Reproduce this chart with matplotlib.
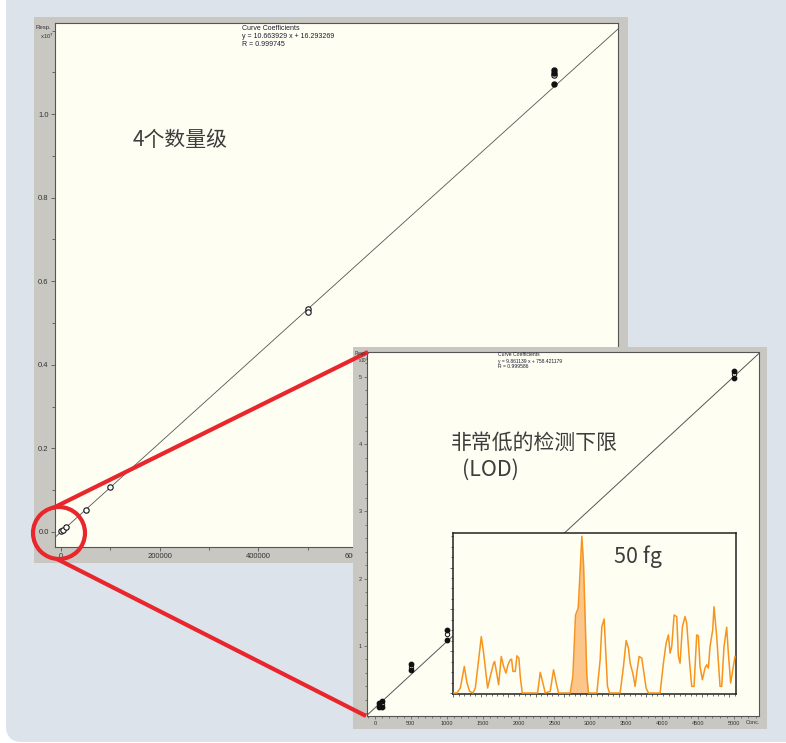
import numpy as np
import matplotlib
matplotlib.use("Agg")
import matplotlib.pyplot as plt
from matplotlib.patches import FancyBboxPatch, Rectangle, Circle
from matplotlib.ticker import MultipleLocator, FixedLocator

# ---- calibration over four orders of magnitude (responses in counts) ----
wide_open_conc = [1000, 5000, 10000, 50000, 100000, 500000, 500000, 1000000]
wide_open_resp = [11000, 55000, 108000, 520000, 1070000, 5340000, 5260000, 10940000]
wide_filled_conc = [1000000, 1000000, 1000000]
wide_filled_resp = [11060000, 10990000, 10720000]
wide_slope, wide_intercept, wide_r = 10.663929, 16.293269, 0.999745
wide_xticks = [0, 200000, 400000, 600000, 800000, 1000000]
wide_yticks = [0.0, 0.2, 0.4, 0.6, 0.8, 1.0]

# ---- low-level calibration (LOD region) ----
low_filled_conc = [50, 50, 100, 100, 500, 500, 1000, 1000, 5000, 5000]
low_filled_resp = [1440, 850, 1830, 940, 7240, 6440, 12340, 10860, 50860, 49800]
low_open_conc = [50, 100, 500, 1000, 5000]
low_open_resp = [1150, 1350, 6800, 11700, 50400]
low_slope, low_intercept, low_r = 9.861139, 758.421179, 0.999586
low_xticks = [0, 500, 1000, 1500, 2000, 2500, 3000, 3500, 4000, 4500, 5000]
low_yticks = [1, 2, 3, 4, 5]

# ---- chromatogram of the 50 fg injection ----
trace_x = [0, 12, 22, 34, 42, 50, 60, 67, 77, 85, 92, 100, 104, 112, 122, 125, 132, 137,
           145, 152, 159, 165, 172, 176, 180, 187, 192, 198, 202, 208, 254, 262, 270, 277,
           292, 302, 310, 317, 352, 360, 368, 376, 382, 387, 392, 397, 402, 407, 432, 442,
           447, 454, 459, 464, 470, 502, 512, 520, 527, 532, 540, 547, 552, 559, 567, 572,
           580, 587, 622, 632, 640, 647, 652, 657, 664, 672, 677, 682, 689, 697, 702, 710,
           717, 724, 732, 737, 742, 749, 757, 762, 767, 772, 780, 784, 792, 802, 807, 814,
           822, 827, 834, 842, 847]
trace_y = [0, 0, 15, 80, 30, 5, 0, 15, 100, 170, 120, 50, 15, 50, 90, 95, 55, 25,
           110, 80, 60, 85, 100, 102, 65, 65, 112, 105, 50, 0, 0, 62, 30, 0,
           5, 70, 30, 0, 0, 50, 235, 255, 370, 472, 390, 220, 50, 0, 0, 100,
           200, 223, 120, 20, 0, 0, 80, 158, 135, 90, 60, 20, 60, 110, 105, 70,
           15, 0, 0, 90, 150, 175, 120, 140, 235, 230, 110, 90, 200, 230, 210, 100,
           20, 20, 175, 172, 80, 40, 75, 85, 75, 140, 190, 260, 170, 20, 20, 140,
           198, 120, 30, 80, 110]
peak_start, peak_end = 352, 407

W, H = 786, 743
PANEL = "#dce3ea"
FRAME = "#c9c7c1"
PLOT_BG = "#fefef3"
RED = "#e8262c"
TXT = "#333333"
CJK = ["Noto Sans CJK SC", "DejaVu Sans"]
LAT = ["Liberation Sans", "DejaVu Sans"]

plt.rcParams["font.family"] = LAT

fig = plt.figure(figsize=(W / 100, H / 100), dpi=100)
fig.patch.set_facecolor("white")


def box(x0, y0, x1, y1):
    return [x0 / W, 1 - y1 / H, (x1 - x0) / W, (y1 - y0) / H]


def bare(ax, color):
    ax.set_facecolor(color)
    ax.set_xticks([])
    ax.set_yticks([])
    for s in ax.spines.values():
        s.set_visible(False)


# page panel and first window frame
bg = fig.add_axes([0, 0, 1, 1], zorder=0)
bg.set_xlim(0, W)
bg.set_ylim(H, 0)
bg.axis("off")
bg.add_patch(FancyBboxPatch((6, -40), 860, 782, boxstyle="round,pad=0,rounding_size=16",
                            fc=PANEL, ec="none"))
bg.add_patch(Rectangle((34, 17), 594, 546, fc=FRAME, ec="none"))

# ---- wide-range calibration plot ----
ax1 = fig.add_axes(box(55, 23, 618, 547), zorder=1)
ax1.set_facecolor(PLOT_BG)
ax1.set_xlim(-12158, 1128673)
ax1.set_ylim(-0.036, 1.218)
lx = np.array(ax1.get_xlim())
ax1.plot(lx, (wide_slope * lx + wide_intercept) / 1e7, color="#555555", lw=0.6, zorder=2)
ax1.scatter(wide_open_conc, np.array(wide_open_resp) / 1e7, s=15, facecolors="white",
            edgecolors="#111111", linewidths=0.8, zorder=3)
ax1.scatter(wide_filled_conc, np.array(wide_filled_resp) / 1e7, s=13, color="#111111", zorder=4)
ax1.xaxis.set_major_locator(FixedLocator(wide_xticks))
ax1.set_xticklabels([str(v) for v in wide_xticks])
ax1.xaxis.set_minor_locator(MultipleLocator(100000))
ax1.yaxis.set_major_locator(FixedLocator(wide_yticks))
ax1.set_yticklabels([f"{v:.1f}" for v in wide_yticks])
ax1.yaxis.set_minor_locator(MultipleLocator(0.1))
ax1.tick_params(which="both", direction="out", width=0.6, colors="#555555",
                labelcolor=TXT, labelsize=5.5, pad=1.5)
ax1.tick_params(which="major", length=3)
ax1.tick_params(which="minor", length=2)
for s in ax1.spines.values():
    s.set_color("#555555")
    s.set_linewidth(0.8)

# ---- second window frame ----
fr2 = fig.add_axes(box(353, 347, 767, 729), zorder=2)
bare(fr2, FRAME)

# ---- low-range calibration plot ----
ax2 = fig.add_axes(box(367, 352, 759, 716), zorder=3)
ax2.set_facecolor(PLOT_BG)
ax2.set_xlim(-111, 5348)
ax2.set_ylim(-0.045, 5.37)
lx2 = np.array(ax2.get_xlim())
ax2.plot(lx2, (low_slope * lx2 + low_intercept) / 1e4, color="#555555", lw=0.7, zorder=2)
ax2.scatter(low_open_conc, np.array(low_open_resp) / 1e4, s=10, facecolors="white",
            edgecolors="#111111", linewidths=0.7, zorder=3)
ax2.scatter(low_filled_conc, np.array(low_filled_resp) / 1e4, s=10, color="#111111", zorder=4)
ax2.xaxis.set_major_locator(FixedLocator(low_xticks))
ax2.set_xticklabels([str(v) for v in low_xticks])
ax2.xaxis.set_minor_locator(MultipleLocator(100))
ax2.yaxis.set_major_locator(FixedLocator(low_yticks))
ax2.set_yticklabels([str(v) for v in low_yticks])
ax2.yaxis.set_minor_locator(MultipleLocator(0.2))
ax2.tick_params(which="both", direction="out", width=0.5, colors="#555555",
                labelcolor=TXT, labelsize=4, pad=1)
ax2.tick_params(which="major", length=2.5)
ax2.tick_params(which="minor", length=1.5)
for s in ax2.spines.values():
    s.set_color("#555555")
    s.set_linewidth(0.8)
ax2.text(0.985, -0.012, "Conc.", transform=ax2.transAxes, ha="center", va="top",
         fontsize=4, color=TXT)

# ---- chromatogram ----
ax3 = fig.add_axes(box(453, 533, 736, 694), zorder=4)
ax3.set_facecolor(PLOT_BG)
tx = np.array(trace_x)
ty = np.array(trace_y)
ax3.set_xlim(0, 850)
ax3.set_ylim(-3, 482)
pk = (tx >= peak_start) & (tx <= peak_end)
ax3.fill_between(tx[pk], ty[pk], 0, color="#fcc68b", lw=0, zorder=2)
ax3.plot(tx, ty, color="#f7941d", lw=1.1, zorder=3)
ax3.xaxis.set_major_locator(MultipleLocator(83))
ax3.xaxis.set_minor_locator(MultipleLocator(16.6))
ax3.yaxis.set_major_locator(MultipleLocator(126))
ax3.yaxis.set_minor_locator(MultipleLocator(31.5))
ax3.set_xticklabels([])
ax3.set_yticklabels([])
ax3.tick_params(which="both", direction="out", width=0.5, colors="#333333")
ax3.tick_params(which="major", length=2)
ax3.tick_params(which="minor", length=1.2)
for s in ax3.spines.values():
    s.set_color("#222222")
    s.set_linewidth(1.1)

# ---- annotations, callout circle and connector lines ----
ov = fig.add_axes([0, 0, 1, 1], zorder=5)
ov.set_xlim(0, W)
ov.set_ylim(H, 0)
ov.axis("off")
ov.patch.set_alpha(0)

ov.text(36, 28, "Resp.", fontsize=4.3, color=TXT, va="center")
ov.text(40, 36, r"x10$^7$", fontsize=4.3, color=TXT, va="center")
ov.text(242, 28, "Curve Coefficients", fontsize=5, color="#1c1c30", va="center")
ov.text(242, 36.5, f"y = {wide_slope:.6f} x + {wide_intercept:.6f}", fontsize=5,
        color="#1c1c30", va="center")
ov.text(242, 45, f"R = {wide_r:.6f}", fontsize=5, color="#1c1c30", va="center")

ov.text(355, 354, "Resp.", fontsize=3.3, color=TXT, va="center")
ov.text(358, 360, r"x10$^4$", fontsize=3.3, color=TXT, va="center")
ov.text(498, 355, "Curve Coefficients", fontsize=3.6, color="#1c1c30", va="center")
ov.text(498, 361, f"y = {low_slope:.6f} x + {low_intercept:.6f}", fontsize=3.6,
        color="#1c1c30", va="center")
ov.text(498, 367, f"R = {low_r:.6f}", fontsize=3.6, color="#1c1c30", va="center")

ov.text(133, 140, "4个数量级", fontsize=15, color="#3d3d3d", family=CJK, va="center")
ov.text(451, 443, "非常低的检测下限", fontsize=15, color="#3d3d3d", family=CJK, va="center")
ov.text(462, 470, "(LOD)", fontsize=15.5, color="#3d3d3d", family=CJK, va="center")
ov.text(614, 557, "50 fg", fontsize=15.5, color="#3d3d3d", family=CJK, va="center")

ov.add_patch(Circle((59, 533), 26, fill=False, ec=RED, lw=3))
ov.plot([53, 368], [508, 352], color=RED, lw=3, solid_capstyle="butt")
ov.plot([57, 366], [559, 716], color=RED, lw=3, solid_capstyle="butt")

fig.savefig("out.png", dpi=100)
